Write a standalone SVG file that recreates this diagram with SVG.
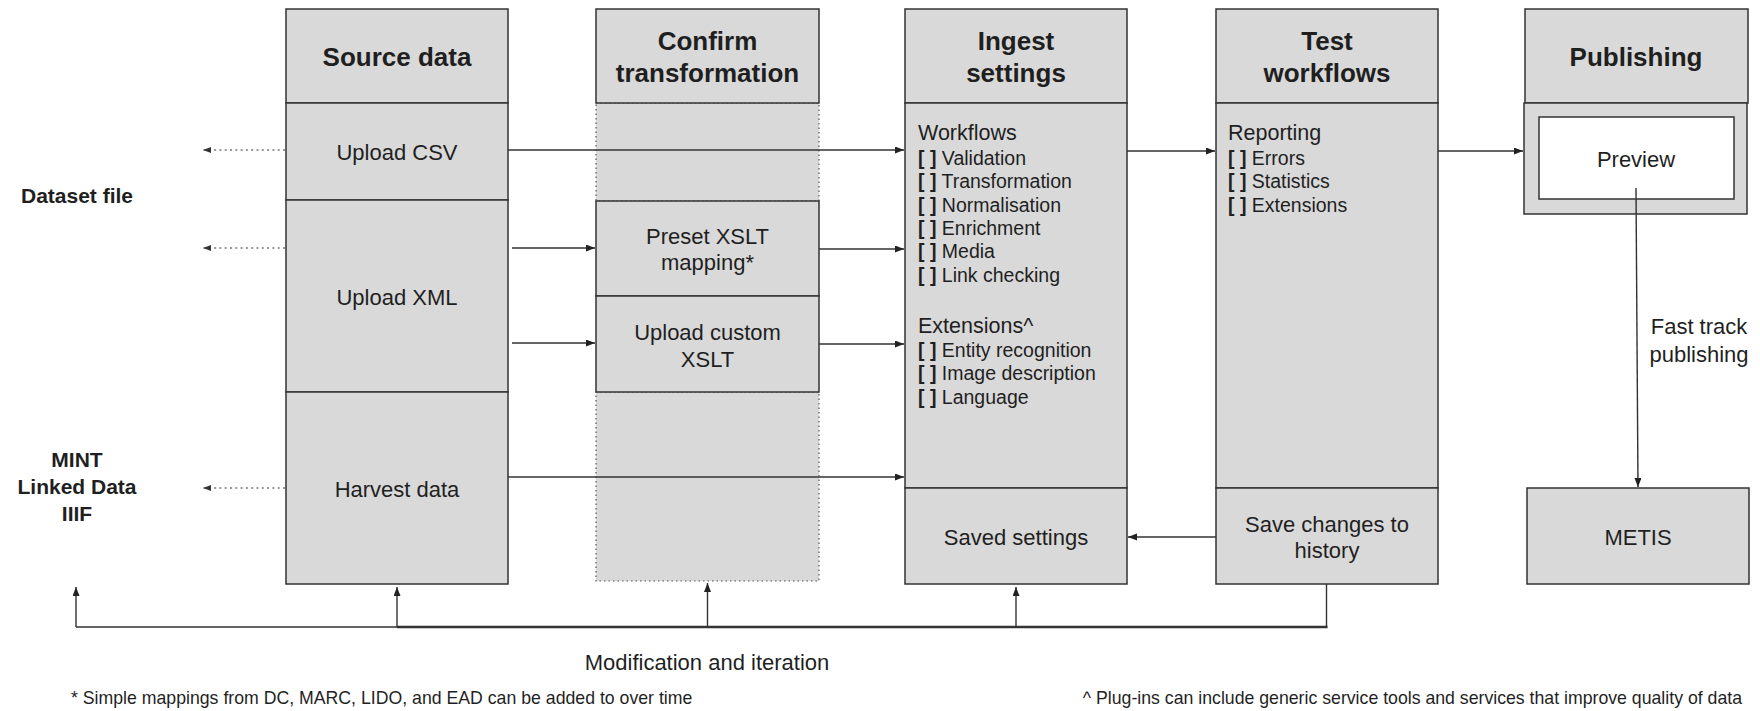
<svg xmlns="http://www.w3.org/2000/svg" width="1760" height="711" viewBox="0 0 1760 711">
  <defs>
    <style>
      text { font-family: "Liberation Sans", Arial, sans-serif; fill: #1f1f1f; }
      .box { fill: #d9d9d9; stroke: #333; stroke-width: 1.5; }
      .dotbox { fill: #d9d9d9; stroke: #555; stroke-width: 1.2; stroke-dasharray: 1.5 3; }
      .white { fill: #ffffff; stroke: #333; stroke-width: 1.5; }
      .hd { font-size: 26px; font-weight: bold; text-anchor: middle; }
      .tx { font-size: 22px; text-anchor: middle; }
      .lh { font-size: 21.5px; }
      .li { font-size: 19.5px; }
      .b { font-weight: bold; }
      .lab { font-size: 21px; font-weight: bold; text-anchor: middle; }
      .fn { font-size: 17.7px; }
      .conn { fill: none; stroke: #333; stroke-width: 1.4; }
      .thick { fill: none; stroke: #333; stroke-width: 2.6; }
      .dots { fill: none; stroke: #777; stroke-width: 1.6; stroke-dasharray: 2 3.3; }
    </style>
    <marker id="arr" markerUnits="userSpaceOnUse" markerWidth="10" markerHeight="8" refX="9" refY="3.5" orient="auto">
      <path d="M0,0 L9,3.5 L0,7 z" fill="#222"/>
    </marker>
    <marker id="arrDot" markerUnits="userSpaceOnUse" markerWidth="10" markerHeight="8" refX="8" refY="3" orient="auto">
      <path d="M0,0 L8,3 L0,6 z" fill="#333"/>
    </marker>
  </defs>

  <rect width="1760" height="711" fill="#ffffff"/>

  <!-- Source data column -->
  <g id="source-data">
    <rect class="box" x="286" y="9" width="222" height="94"/>
    <rect class="box" x="286" y="103" width="222" height="97"/>
    <rect class="box" x="286" y="200" width="222" height="192"/>
    <rect class="box" x="286" y="392" width="222" height="192"/>
    <text class="hd" x="397" y="66">Source data</text>
    <text class="tx" x="397" y="160">Upload CSV</text>
    <text class="tx" x="397" y="305">Upload XML</text>
    <text class="tx" x="397" y="497">Harvest data</text>
  </g>

  <!-- Confirm transformation column -->
  <g id="confirm-transformation">
    <rect class="dotbox" x="596" y="103" width="223" height="98"/>
    <rect class="dotbox" x="596" y="392" width="223" height="189"/>
    <rect class="box" x="596" y="9" width="223" height="94"/>
    <rect class="box" x="596" y="201" width="223" height="95"/>
    <rect class="box" x="596" y="296" width="223" height="96"/>
    <text class="hd" x="707.5" y="50">Confirm</text>
    <text class="hd" x="707.5" y="82">transformation</text>
    <text class="tx" x="707.5" y="244">Preset XSLT</text>
    <text class="tx" x="707.5" y="270">mapping*</text>
    <text class="tx" x="707.5" y="340">Upload custom</text>
    <text class="tx" x="707.5" y="367">XSLT</text>
  </g>

  <!-- Ingest settings column -->
  <g id="ingest-settings">
    <rect class="box" x="905" y="9" width="222" height="94"/>
    <rect class="box" x="905" y="103" width="222" height="385"/>
    <rect class="box" x="905" y="488" width="222" height="96"/>
    <text class="hd" x="1016" y="50">Ingest</text>
    <text class="hd" x="1016" y="82">settings</text>
    <text class="lh" x="918" y="140">Workflows</text>
    <text class="li" x="918" y="165"><tspan class="b">[ ]</tspan> Validation</text>
    <text class="li" x="918" y="188.3"><tspan class="b">[ ]</tspan> Transformation</text>
    <text class="li" x="918" y="211.6"><tspan class="b">[ ]</tspan> Normalisation</text>
    <text class="li" x="918" y="234.9"><tspan class="b">[ ]</tspan> Enrichment</text>
    <text class="li" x="918" y="258.2"><tspan class="b">[ ]</tspan> Media</text>
    <text class="li" x="918" y="281.5"><tspan class="b">[ ]</tspan> Link checking</text>
    <text class="lh" x="918" y="333">Extensions^</text>
    <text class="li" x="918" y="357"><tspan class="b">[ ]</tspan> Entity recognition</text>
    <text class="li" x="918" y="380.3"><tspan class="b">[ ]</tspan> Image description</text>
    <text class="li" x="918" y="403.6"><tspan class="b">[ ]</tspan> Language</text>
    <text class="tx" x="1016" y="545">Saved settings</text>
  </g>

  <!-- Test workflows column -->
  <g id="test-workflows">
    <rect class="box" x="1216" y="9" width="222" height="94"/>
    <rect class="box" x="1216" y="103" width="222" height="385"/>
    <rect class="box" x="1216" y="488" width="222" height="96"/>
    <text class="hd" x="1327" y="50">Test</text>
    <text class="hd" x="1327" y="82">workflows</text>
    <text class="lh" x="1228" y="140">Reporting</text>
    <text class="li" x="1228" y="165"><tspan class="b">[ ]</tspan> Errors</text>
    <text class="li" x="1228" y="188.3"><tspan class="b">[ ]</tspan> Statistics</text>
    <text class="li" x="1228" y="211.6"><tspan class="b">[ ]</tspan> Extensions</text>
    <text class="tx" x="1327" y="532">Save changes to</text>
    <text class="tx" x="1327" y="558">history</text>
  </g>

  <!-- Publishing column -->
  <g id="publishing">
    <rect class="box" x="1525" y="9" width="223" height="94"/>
    <rect class="box" x="1524" y="103" width="223" height="111"/>
    <rect class="white" x="1539" y="117" width="195" height="82"/>
    <text class="hd" x="1636" y="66">Publishing</text>
    <text class="tx" x="1636" y="167">Preview</text>
  </g>

  <g id="metis">
    <rect class="box" x="1527" y="488" width="222" height="96"/>
    <text class="tx" x="1638" y="545">METIS</text>
  </g>

  <!-- Side labels -->
  <g id="dataset-file">
    <text class="lab" x="77" y="203">Dataset file</text>
  </g>
  <g id="external-sources">
    <text class="lab" x="77" y="467">MINT</text>
    <text class="lab" x="77" y="494">Linked Data</text>
    <text class="lab" x="77" y="521">IIIF</text>
  </g>

  <!-- Connectors -->
  <g id="connectors">
    <!-- dotted links out to the left-hand sources -->
    <line class="dots" x1="285" y1="150" x2="203" y2="150" marker-end="url(#arrDot)"/>
    <line class="dots" x1="285" y1="248" x2="203" y2="248" marker-end="url(#arrDot)"/>
    <line class="dots" x1="285" y1="488" x2="203" y2="488" marker-end="url(#arrDot)"/>

    <!-- source to confirm / ingest -->
    <line class="conn" x1="508" y1="150" x2="904" y2="150" marker-end="url(#arr)"/>
    <line class="conn" x1="512" y1="248" x2="595" y2="248" marker-end="url(#arr)"/>
    <line class="conn" x1="512" y1="343" x2="595" y2="343" marker-end="url(#arr)"/>
    <line class="conn" x1="508" y1="477" x2="904" y2="477" marker-end="url(#arr)"/>

    <!-- confirm to ingest -->
    <line class="conn" x1="819" y1="249" x2="904" y2="249" marker-end="url(#arr)"/>
    <line class="conn" x1="819" y1="344" x2="904" y2="344" marker-end="url(#arr)"/>

    <!-- ingest to test to publishing -->
    <line class="conn" x1="1127" y1="151" x2="1215" y2="151" marker-end="url(#arr)"/>
    <line class="conn" x1="1438" y1="151" x2="1523" y2="151" marker-end="url(#arr)"/>

    <!-- save changes back to saved settings -->
    <line class="conn" x1="1216" y1="537" x2="1128" y2="537" marker-end="url(#arr)"/>

    <!-- fast track publishing -->
    <line class="conn" x1="1636" y1="188" x2="1638" y2="487" marker-end="url(#arr)"/>
    <text class="tx" x="1699" y="334">Fast track</text>
    <text class="tx" x="1699" y="362">publishing</text>

    <!-- modification and iteration loop -->
    <path class="conn" d="M1326.5,584 V627 H76"/>
    <line class="thick" x1="397" y1="627" x2="1327.5" y2="627"/>
    <line class="conn" x1="76" y1="627" x2="76" y2="587" marker-end="url(#arr)"/>
    <line class="conn" x1="397" y1="627" x2="397" y2="587" marker-end="url(#arr)"/>
    <line class="conn" x1="707.5" y1="627" x2="707.5" y2="583" marker-end="url(#arr)"/>
    <line class="conn" x1="1016" y1="627" x2="1016" y2="587" marker-end="url(#arr)"/>
    <text class="tx" x="707" y="670">Modification and iteration</text>
  </g>

  <!-- Footnotes -->
  <text class="fn" x="71" y="704">* Simple mappings from DC, MARC, LIDO, and EAD can be added to over time</text>
  <text class="fn" x="1742" y="704" text-anchor="end">^ Plug-ins can include generic service tools and services that improve quality of data</text>
</svg>
